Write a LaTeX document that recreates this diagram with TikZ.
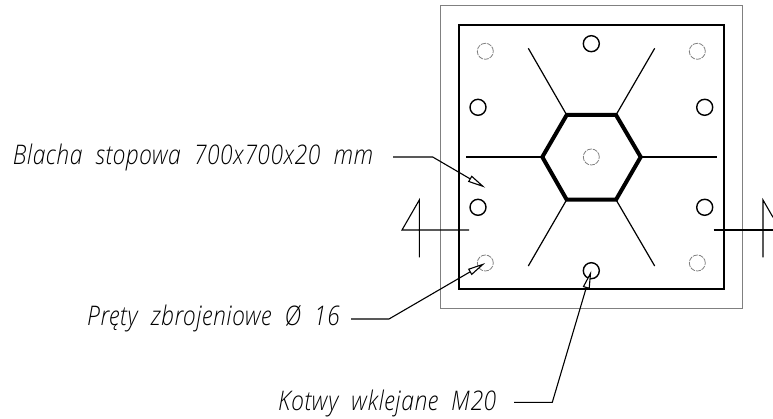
\documentclass[tikz,border=0pt]{standalone}
\usepackage{fontspec}
\usepackage{tikz}
\usetikzlibrary{arrows.meta}
\setmainfont[ItalicFont={Open Sans Light Italic},FakeStretch=0.85,LetterSpace=2,WordSpace=2]{Open Sans Light}
\tikzset{
    bolt/.style={shape=circle, draw=black, line width=1.4pt, minimum size=16pt, inner sep=0pt},
    rebar/.style={shape=circle, draw=gray, line width=0.8pt, dash pattern=on 5pt off 1pt, minimum size=16pt, inner sep=0pt},
    rib/.style={line width=1.2pt},
    leader/.style={line width=1.1pt},
    tipped/.style={leader, -{Triangle[open, length=18pt, width=7pt, fill=white]}},
    callout/.style={anchor=base west, inner sep=0pt, font=\itshape\fontsize{27}{27}\selectfont},
}
\begin{document}
\begin{tikzpicture}[x=1pt, y=-1pt]
    \useasboundingbox (0, 0) rectangle (773, 419);
    \draw[gray, line width=1pt] (440, 5.7) rectangle (742.7, 308.3);
    \draw[black, line width=1.7pt] (459, 25) rectangle (723.7, 289.3);
    \coordinate (hexW) at (542.3, 157);
    \coordinate (hexNW) at (566.7, 115);
    \coordinate (hexNE) at (616, 115);
    \coordinate (hexE) at (640.7, 157);
    \coordinate (hexSE) at (616, 199.7);
    \coordinate (hexSW) at (566.7, 199.7);
    \draw[rib] (hexW) -- (465.7, 157);
    \draw[rib] (hexE) -- (717.3, 157);
    \draw[rib] (hexNW) -- (528.3, 48.3);
    \draw[rib] (hexNE) -- (654.7, 48.3);
    \draw[rib] (hexSW) -- (528.3, 266);
    \draw[rib] (hexSE) -- (654.7, 266);
    \draw[line width=4pt, line join=miter] (hexW) -- (hexNW) -- (hexNE) -- (hexE) -- (hexSE) -- (hexSW) -- cycle;
    % anchors
    \node[bolt] (boltN) at (591.3, 43.7) {};
    \node[bolt] (boltWU) at (478, 107.3) {};
    \node[bolt] (boltEU) at (704.7, 107.3) {};
    \node[bolt] (boltWL) at (478, 207.3) {};
    \node[bolt] (boltEL) at (704.7, 207.3) {};
    \node[bolt] (boltS) at (591.3, 270.7) {};
    % bars
    \node[rebar] (barNW) at (485.3, 51.3) {};
    \node[rebar] (barNE) at (697.3, 51.3) {};
    \node[rebar] (barC) at (591.3, 157) {};
    \node[rebar] (barSW) at (485.3, 263) {};
    \node[rebar] (barSE) at (697.3, 263) {};
    % section marks
    \draw[leader] (419.3, 257.3) -- (419.3, 200) -- (402, 230) -- (469, 230);
    \draw[leader] (763, 257.3) -- (763, 200) -- (773, 217.3);
    \draw[leader] (713.7, 230) -- (773, 230);
    % labels
    \node[callout] (plateLabel) at (12.7, 165) {Blacha stopowa 700x700x20 mm};
    \node[callout] (barLabel) at (87, 325.7) {Pręty zbrojeniowe Ø 16};
    \node[callout] (boltLabel) at (278, 410) {Kotwy wklejane M20};
    \coordinate (plateStart) at (393, 157);
    \coordinate (plateBend) at (432.7, 157);
    \coordinate (plateTip) at (485.3, 187.7);
    \coordinate (barStart) at (351, 319);
    \coordinate (barBend) at (389, 319);
    \coordinate (boltStart) at (514, 402.3);
    \coordinate (boltBend) at (552.3, 402.3);
    \draw[tipped] (plateStart) -- (plateBend) -- (plateTip);
    \draw[tipped] (barStart) -- (barBend) -- (barSW.center);
    \draw[tipped] (boltStart) -- (boltBend) -- (boltS.center);
\end{tikzpicture}
\end{document}
